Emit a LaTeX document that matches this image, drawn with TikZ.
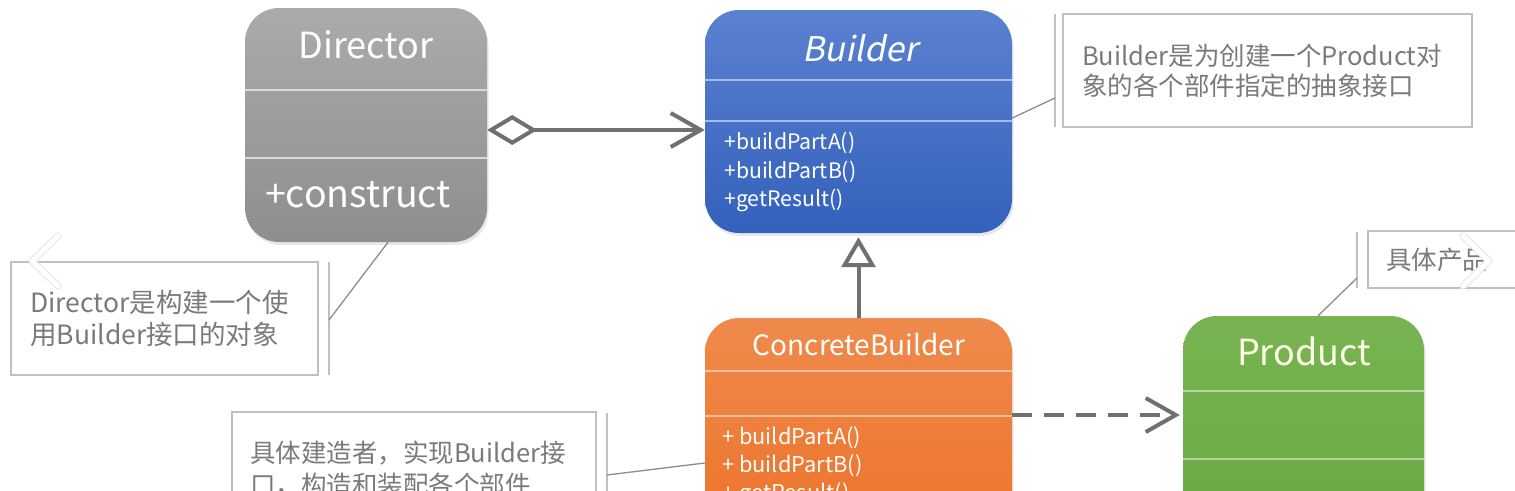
\documentclass[tikz,border=0pt]{standalone}
\usepackage{fontspec}
\setmainfont{Noto Sans CJK SC}
\newfontfamily\slfont[FakeSlant=0.2]{Noto Sans CJK SC}
\usetikzlibrary{arrows.meta,shadows}
\definecolor{conngray}{HTML}{707070}
\definecolor{notegray}{HTML}{C0C0C0}
\definecolor{notetext}{HTML}{7A7A7A}
\definecolor{dirtop}{HTML}{ABABAB}
\definecolor{dirbot}{HTML}{8E8E8E}
\definecolor{bldtop}{HTML}{5B81D0}
\definecolor{bldbot}{HTML}{3461BC}
\definecolor{cbtop}{HTML}{EF8A4C}
\definecolor{cbbot}{HTML}{EC7026}
\definecolor{prtop}{HTML}{78B552}
\definecolor{prbot}{HTML}{66A63E}
\tikzset{
  classbox/.style={rectangle, rounded corners=34pt, inner sep=0pt, draw=none,
    drop shadow={shadow xshift=1.5pt, shadow yshift=-3pt, opacity=0.18}},
  divider/.style={line width=2pt},
  conn/.style={draw=conngray, line width=4pt},
  notebox/.style={rectangle, draw=notegray, line width=2pt, fill=white, inner sep=0pt},
  bracket/.style={draw=notegray, line width=2pt},
  notelink/.style={draw=conngray!80, line width=1.3pt},
  notetxt/.style={anchor=west, inner sep=0pt, text=notetext, font=\fontsize{25.5}{30}\selectfont},
  title/.style={inner sep=0pt, text=white},
  method/.style={anchor=west, inner sep=0pt, text=white, font=\fontsize{21.3}{25}\selectfont},
  chev/.style={line width=5pt, line cap=round, line join=round}
}
\begin{document}
\begin{tikzpicture}[x=1pt,y=-1pt]
\useasboundingbox (0,0) rectangle (1515,490);
\fill[white] (0,0) rectangle (1515,490);

% ---------- class boxes ----------
\node[classbox, top color=dirtop, bottom color=dirbot, minimum width=242pt, minimum height=234pt] (dir) at (366,125) {};
\node[classbox, top color=bldtop, bottom color=bldbot, minimum width=307pt, minimum height=223pt] (bld) at (858.5,121.5) {};
\node[classbox, top color=cbtop, bottom color=cbbot, minimum width=307pt, minimum height=244pt] (cb) at (858.5,440) {};
\node[classbox, top color=prtop, bottom color=prbot, minimum width=241pt, minimum height=246pt] (prod) at (1303.5,439) {};

% dividers
\draw[divider, draw=white!55!dirtop] (dir.west |- 0,90) -- (dir.east |- 0,90);
\draw[divider, draw=white!55!dirtop] (dir.west |- 0,158) -- (dir.east |- 0,158);
\draw[divider, draw=white!45!bldtop] (bld.west |- 0,80) -- (bld.east |- 0,80);
\draw[divider, draw=white!45!bldtop] (bld.west |- 0,121) -- (bld.east |- 0,121);
\draw[divider, draw=white!45!cbtop] (cb.west |- 0,371) -- (cb.east |- 0,371);
\draw[divider, draw=white!45!cbtop] (cb.west |- 0,416) -- (cb.east |- 0,416);
\draw[divider, draw=white!45!prtop] (prod.west |- 0,391) -- (prod.east |- 0,391);
\draw[divider, draw=white!45!prtop] (prod.west |- 0,459) -- (prod.east |- 0,459);

% titles and members
\node[title, font=\fontsize{36}{40}\selectfont] (dirT) at (366,45) {Director};
\node[title, font=\fontsize{37.5}{40}\selectfont] (dirM) at (358,195) {+construct};
\node[title, font=\fontsize{34}{40}\selectfont\slfont] (bldT) at (860,48) {Builder};
\node[method] (bm1) at (724,143) {+buildPartA()};
\node[method] (bm2) at (724,172) {+buildPartB()};
\node[method] (bm3) at (724,200) {+getResult()};
\node[title, font=\fontsize{28}{32}\selectfont] (cbT) at (859,345) {ConcreteBuilder};
\node[method, font=\fontsize{21.8}{25}\selectfont] (cm1) at (722,438) {+ buildPartA()};
\node[method, font=\fontsize{21.8}{25}\selectfont] (cm2) at (722,466) {+ buildPartB()};
\node[method, font=\fontsize{21.8}{25}\selectfont] (cm3) at (722,494) {+ getResult()};
\node[title, font=\fontsize{36}{40}\selectfont, text=white!90!yellow] (prT) at (1304,351) {Product};

% ---------- relations ----------
\draw[conn, {Diamond[open, length=50pt, width=30pt]}-{Straight Barb[length=30pt, width=34pt]}]
  (dir.east |- 0,130) -- (bld.west |- 0,130);
\draw[conn, shorten >=4pt, -{Triangle[open, length=30pt, width=34pt]}]
  (cb.north) -- (bld.south);
\draw[conn, dash pattern=on 20pt off 12pt, shorten >=3pt, -{Straight Barb[length=30pt, width=34pt]}]
  (cb.east |- 0,415) -- (prod.west |- 0,415);

% ---------- notes ----------
% Builder note
\node[notebox, minimum width=409pt, minimum height=113pt] (nB) at (1267.5,70.5) {};
\draw[bracket] (1055,14) -- (1055,127);
\coordinate (nBc) at (1055,98);
\draw[notelink] (nBc) -- (bld.east |- 0,118);
\node[notetxt] (nBt1) at (1082,56) {Builder是为创建一个Product对};
\node[notetxt] (nBt2) at (1082,86) {象的各个部件指定的抽象接口};

% Director note
\node[notebox, minimum width=307pt, minimum height=113pt] (nD) at (164.5,318.5) {};
\draw[bracket] (329,262) -- (329,375);
\coordinate (nDc) at (329,320);
\draw[notelink] (nDc) -- (dir.south -| 388,0);
\node[notetxt, font=\fontsize{26.5}{30}\selectfont] (nDt1) at (30,302) {Director是构建一个使};
\node[notetxt, font=\fontsize{26.5}{30}\selectfont] (nDt2) at (30,334) {用Builder接口的对象};

% Product note
\node[notebox, minimum width=162pt, minimum height=57pt] (nP) at (1449,259.5) {};
\draw[bracket] (1357,232) -- (1357,288);
\coordinate (nPc) at (1357,278);
\draw[notelink] (nPc) -- (prod.north -| 1318,0);
\node[notetxt] (nPt) at (1386,260) {具体产品};

% ConcreteBuilder note
\node[notebox, minimum width=364pt, minimum height=150pt] (nC) at (414,487) {};
\draw[bracket] (607,413) -- (607,560);
\coordinate (nCc) at (607,475);
\draw[notelink] (nCc) -- (cb.west |- 0,463);
\node[notetxt] (nCt1) at (250,453) {具体建造者，实现Builder接};
\node[notetxt] (nCt2) at (250,485) {口，构造和装配各个部件};

% ---------- carousel chevrons ----------
\draw[chev, line width=7pt, draw=black!10] (58,236) -- (32,261) -- (58,286);
\draw[chev, draw=white] (58,236) -- (32,261) -- (58,286);
\draw[chev, line width=7pt, draw=black!10] (1463,236) -- (1489,261) -- (1463,286);
\draw[chev, draw=white] (1463,236) -- (1489,261) -- (1463,286);
\end{tikzpicture}
\end{document}
